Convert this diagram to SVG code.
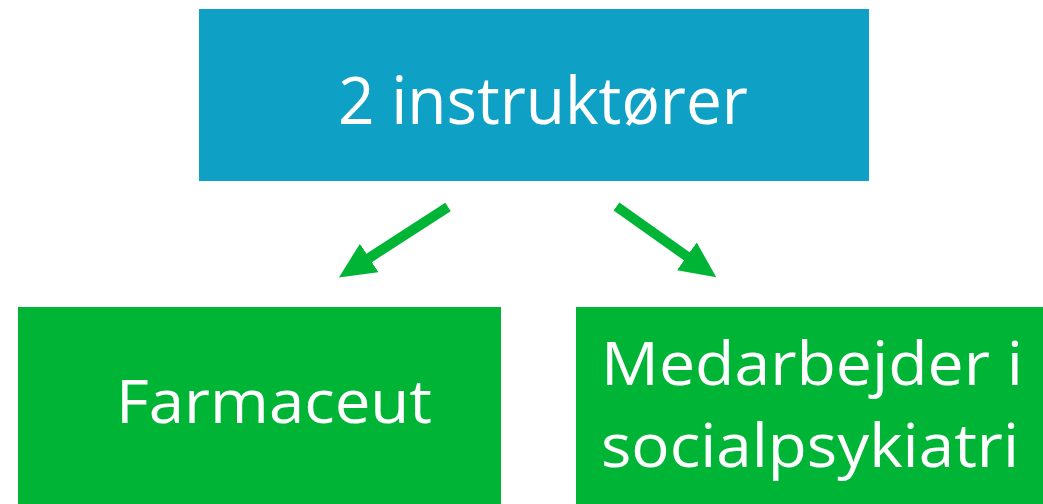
<svg xmlns="http://www.w3.org/2000/svg" width="1043" height="504" viewBox="0 0 1043 504">
<style>
.lbl{font-family:"Open Sans","Liberation Sans",sans-serif;fill:#ffffff;}
.con{stroke:#00B536;stroke-width:10;fill:none;}
</style>
<defs>
<marker id="ah" markerUnits="userSpaceOnUse" markerWidth="40" markerHeight="40" refX="2" refY="17" orient="auto">
<path d="M0,0 L36,17 L0,34 z" fill="#00B536"/>
</marker>
</defs>
<rect width="1043" height="504" fill="#ffffff"/>
<g id="node-top">
<rect x="199" y="9" width="670" height="172" fill="#0FA0C5"/>
<text class="lbl" x="338" y="124" font-size="66" textLength="410" lengthAdjust="spacingAndGlyphs">2 instruktører</text>
</g>
<g id="node-left">
<rect x="18" y="307" width="483" height="197" fill="#00B536"/>
<text class="lbl" x="116" y="423" font-size="60" textLength="316" lengthAdjust="spacingAndGlyphs">Farmaceut</text>
</g>
<g id="node-right">
<rect x="576" y="307" width="467" height="197" fill="#00B536"/>
<text class="lbl" x="601" y="385" font-size="60" textLength="422" lengthAdjust="spacingAndGlyphs">Medarbejder i</text>
<text class="lbl" x="601" y="467" font-size="60" textLength="418" lengthAdjust="spacingAndGlyphs">socialpsykiatri</text>
</g>
<g id="connectors">
<line class="con" x1="448" y1="207" x2="367.5" y2="259" marker-end="url(#ah)"/>
<line class="con" x1="616.5" y1="206.5" x2="688.5" y2="257.5" marker-end="url(#ah)"/>
</g>
</svg>
